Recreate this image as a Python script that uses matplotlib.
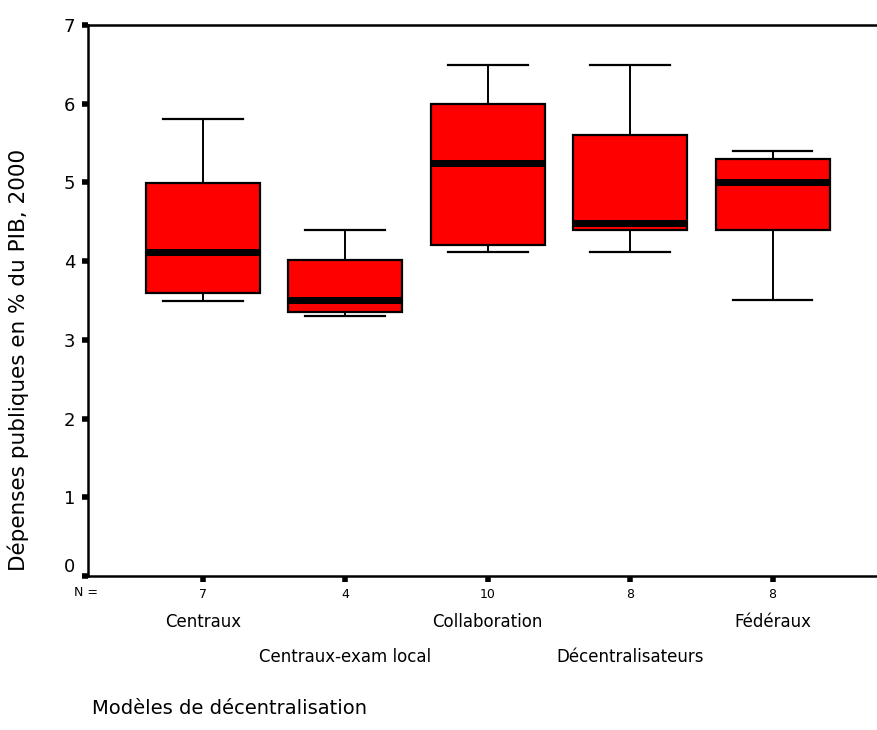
import matplotlib
matplotlib.use("Agg")
import matplotlib.pyplot as plt
import matplotlib.transforms as mtransforms

categories = ["Centraux", "Centraux-exam local", "Collaboration", "Décentralisateurs", "Fédéraux"]
n_counts = [7, 4, 10, 8, 8]
whisker_low = [3.50, 3.30, 4.11, 4.11, 3.51]
q1 = [3.60, 3.35, 4.21, 4.39, 4.39]
median = [4.11, 3.51, 5.25, 4.49, 5.00]
q3 = [4.99, 4.01, 6.00, 5.60, 5.30]
whisker_high = [5.81, 4.39, 6.49, 6.49, 5.40]
yticks = [0, 1, 2, 3, 4, 5, 6, 7]

fig = plt.figure(figsize=(8.78, 7.30), dpi=100)
ax = fig.add_axes([88/878, 1-576/730, 1-88/878, (576-25)/730])

stats = []
for i, c in enumerate(categories):
    stats.append(dict(label=c, whislo=whisker_low[i], q1=q1[i], med=median[i],
                      q3=q3[i], whishi=whisker_high[i], fliers=[]))

positions = list(range(1, len(categories)+1))
ax.bxp(stats, positions=positions, widths=0.8, patch_artist=True, showfliers=False,
       boxprops=dict(facecolor="#ff0000", edgecolor="black", linewidth=1.6),
       medianprops=dict(color="black", linewidth=5, solid_capstyle="butt"),
       whiskerprops=dict(color="black", linewidth=1.4),
       capprops=dict(color="black", linewidth=1.6),
       capwidths=0.56)

ax.set_xlim(0.193, 5.74)
ax.set_ylim(0, 7)
ax.spines["right"].set_visible(False)
for s in ["left", "top", "bottom"]:
    ax.spines[s].set_linewidth(1.8)

ax.set_yticks(yticks)
ax.set_yticklabels([str(t) for t in yticks], fontsize=13, family="DejaVu Sans")
ax.tick_params(axis="y", length=4, width=4, direction="out", pad=5)
ax.tick_params(axis="x", length=4, width=4, direction="out", pad=5)
ax.set_xticks(positions)
ax.set_xticklabels([str(n) for n in n_counts], fontsize=9)

# raise the "0" label a little, as in the reference
lbl0 = ax.get_yticklabels()[0]
lbl0.set_transform(lbl0.get_transform() + mtransforms.ScaledTranslation(0, 8/72, fig.dpi_scale_trans))

fig.text(86/878, 1-593/730, "N =", fontsize=9, ha="center", va="center")

for i, c in enumerate(categories):
    yy = 1-622/730 if i % 2 == 0 else 1-657/730
    ax.text(positions[i], yy, c, transform=mtransforms.blended_transform_factory(ax.transData, fig.transFigure),
            ha="center", va="center", fontsize=12)

fig.text(92/878, 1-708/730, "Modèles de décentralisation", fontsize=14, ha="left", va="center")
fig.text(18/878, 1-360/730, "Dépenses publiques en % du PIB, 2000", fontsize=15.5,
         rotation=90, ha="center", va="center")

fig.savefig("out.png", dpi=100)
